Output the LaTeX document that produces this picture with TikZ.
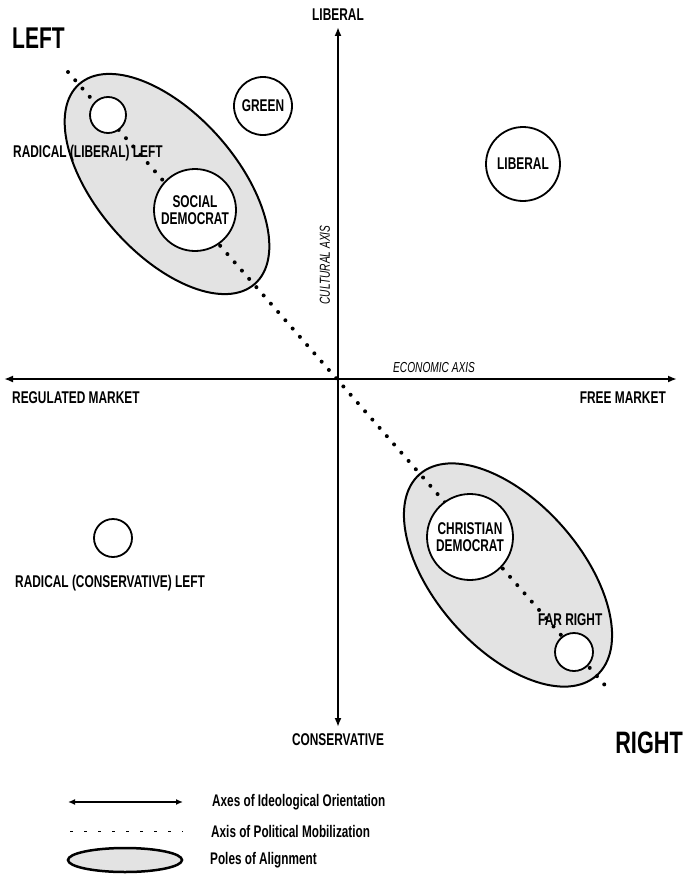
\documentclass[tikz,border=0pt]{standalone}
\usepackage{fontspec}
\setmainfont{Liberation Sans}[FakeStretch=0.70]
\usetikzlibrary{shapes.geometric,arrows.meta}
\definecolor{polefill}{gray}{0.89}
\begin{document}
\begin{tikzpicture}[x=1pt,y=-1pt,
  lbl/.style={font=\bfseries\fontsize{17}{18}\selectfont, inner sep=0pt},
  ilbl/.style={font=\itshape\fontsize{14.5}{15}\selectfont, inner sep=0pt},
  big/.style={font=\bfseries\fontsize{30}{32}\selectfont, inner sep=0pt},
  leg/.style={font=\bfseries\fontsize{16.8}{17}\selectfont, inner sep=0pt, anchor=west},
  party/.style={circle, draw, line width=1.8pt, fill=white, align=center, inner sep=0pt,
     font=\bfseries\fontsize{17}{17.5}\selectfont},
  pole/.style={ellipse, draw, line width=2pt, fill=polefill, inner sep=0pt},
  axisline/.style={line width=2pt, {Latex[length=9pt,width=7pt]}-{Latex[length=9pt,width=7pt]}},
  mobil/.style={line width=4pt, line cap=round, dash pattern=on 0pt off 11pt}
]
\useasboundingbox (0,0) rectangle (686,875);

% poles of alignment
\node[pole, minimum width=266pt, minimum height=140pt, rotate=-48.7] (poleL) at (167,184) {};
\node[pole, minimum width=268pt, minimum height=146pt, rotate=-48.7] (poleR) at (508,575) {};

% axes
\coordinate (O) at (338,379);
\coordinate (top) at (338,27);
\coordinate (bot) at (338,727);
\coordinate (lft) at (4,379);
\coordinate (rgt) at (677,379);
\draw[axisline] (lft) -- (rgt);
\draw[axisline] (bot) -- (top);

% axis of mobilization
\coordinate (m1) at (68,72);
\coordinate (m2) at (610,691);
\draw[mobil] (m1) -- (m2);

% parties
\node[party, minimum size=36pt] (rll) at (108,115) {};
\node[party, minimum size=58pt] (green) at (263,106) {GREEN};
\node[party, minimum size=82pt] (socdem) at (195,210) {SOCIAL\\DEMOCRAT};
\node[party, minimum size=74pt] (liberal) at (523,164) {LIBERAL};
\node[party, minimum size=38pt] (rcl) at (113,538) {};
\node[party, minimum size=86pt] (chrdem) at (470,537) {CHRISTIAN\\DEMOCRAT};
\node[party, minimum size=38pt] (farright) at (574,652) {};

% labels
\node[lbl] (tlib) at (338,15) {LIBERAL};
\node[lbl] (tcons) at (338,740) {CONSERVATIVE};
\node[lbl, anchor=west] (treg) at (12,398) {REGULATED MARKET};
\node[lbl, anchor=east] (tfree) at (666,398) {FREE MARKET};
\node[ilbl, anchor=west] (tecon) at (393,368) {ECONOMIC AXIS};
\node[ilbl, rotate=90] (tcult) at (325,265) {CULTURAL AXIS};
\node[big, anchor=west] (tleft) at (12,38) {LEFT};
\node[big, anchor=east, font=\bfseries\fontsize{31}{33}\selectfont] (tright) at (683,743) {RIGHT};
\node[lbl, anchor=west] (trll) at (13,153) {RADICAL (LIBERAL) LEFT};
\node[lbl, anchor=west] (trcl) at (15,583) {RADICAL (CONSERVATIVE) LEFT};
\node[lbl, anchor=west] (tfar) at (538,620) {FAR RIGHT};

% legend
\coordinate (la) at (68,802);
\coordinate (lb) at (183,802);
\draw[line width=2pt, {Latex[length=7pt,width=6pt]}-{Latex[length=7pt,width=6pt]}] (la) -- (lb);
\coordinate (lc) at (70,831);
\coordinate (ld) at (183,831);
\draw[line width=1pt, dash pattern=on 3pt off 11pt] (lc) -- (ld);
\node[pole, minimum width=114pt, minimum height=24pt, line width=2.5pt] (legpole) at (125,860) {};
\node[leg] (leg1) at (212,802) {Axes of Ideological Orientation};
\node[leg] (leg2) at (211,831) {Axis of Political Mobilization};
\node[leg] (leg3) at (210,860) {Poles of Alignment};
\end{tikzpicture}
\end{document}
